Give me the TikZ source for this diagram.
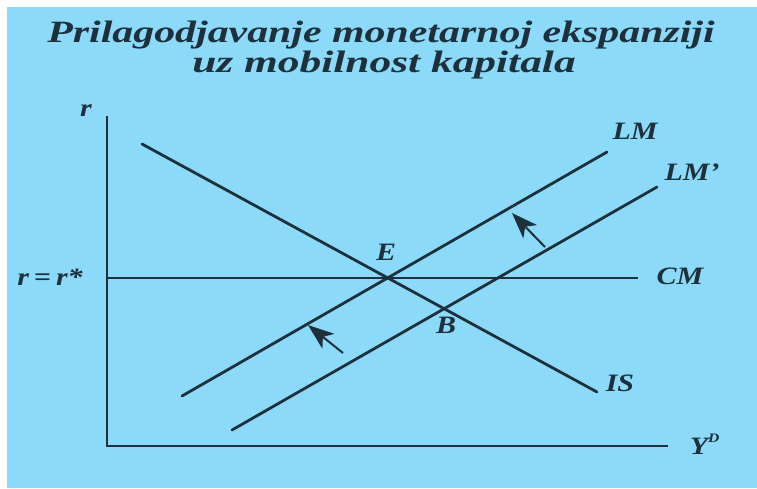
\documentclass[tikz,border=0pt]{standalone}
\usepackage{fontspec}
\setmainfont{Liberation Serif}
\usetikzlibrary{arrows.meta}
\definecolor{bgblue}{RGB}{140,218,250}
\definecolor{ink}{RGB}{30,48,58}
\newcommand{\wide}[1]{\scalebox{1.2}[1]{#1}}
\tikzset{
  curve/.style={draw=ink, line width=2.8pt, line cap=round},
  axis/.style={draw=ink, line width=2.4pt},
  lbl/.style={text=ink, font=\fontsize{25}{28}\selectfont\bfseries\itshape, inner sep=0pt},
  ttl/.style={text=ink, font=\fontsize{31}{34}\selectfont\bfseries\itshape, inner sep=0pt, anchor=base},
  shift arrow/.style={draw=ink, line width=2pt, -{Stealth[length=26pt,width=19pt,inset=7pt]}}
}
\begin{document}
\begin{tikzpicture}[x=1pt,y=-1pt]
\useasboundingbox (0,0) rectangle (757,488);
\fill[white] (0,0) rectangle (757,488);
\fill[bgblue] (7,7) rectangle (757,488);
% title
\node[ttl] (t1) at (381,42) {\scalebox{1.35}[1]{Prilagodjavanje monetarnoj ekspanziji}};
\node[ttl] (t2) at (384,72) {\scalebox{1.4}[1]{uz mobilnost kapitala}};
% axes
\coordinate (ytop) at (107,116);
\coordinate (org) at (107,446);
\coordinate (xend) at (668,446);
\draw[axis] (ytop) -- (org) -- (xend);
\node[lbl] (rlab) at (86,111) {\wide{r}};
\node[lbl] (ylab) at (699,444) {\wide{Y\rlap{\raisebox{12pt}{\fontsize{13}{14}\selectfont D}}}};
% CM
\coordinate (cma) at (107,278);
\coordinate (cmb) at (638,278);
\draw[axis] (cma) -- (cmb);
\node[lbl] (rr) at (50,277) {\wide{r\,=\,r*}};
\node[lbl] (cm) at (680,276) {\wide{CM}};
% IS
\coordinate (isa) at (142,144);
\coordinate (isb) at (597,392);
\draw[curve] (isa) -- (isb);
\node[lbl] (is) at (620,383) {\wide{IS}};
% LM
\coordinate (lma) at (182,396);
\coordinate (lmb) at (607,152);
\draw[curve] (lma) -- (lmb);
\node[lbl] (lm) at (635,131) {\wide{LM}};
% LM'
\coordinate (lpa) at (232,430);
\coordinate (lpb) at (657,187);
\draw[curve] (lpa) -- (lpb);
\node[lbl] (lmp) at (692,172) {\wide{LM'}};
% points
\node[lbl] (e) at (386,252) {\wide{E}};
\node[lbl] (b) at (446,325) {\wide{B}};
% arrows
\coordinate (a1s) at (343,353);
\coordinate (a1e) at (308,325);
\coordinate (a2s) at (545,247);
\coordinate (a2e) at (512,213);
\draw[shift arrow] (a1s) -- (a1e);
\draw[shift arrow] (a2s) -- (a2e);
\end{tikzpicture}
\end{document}
